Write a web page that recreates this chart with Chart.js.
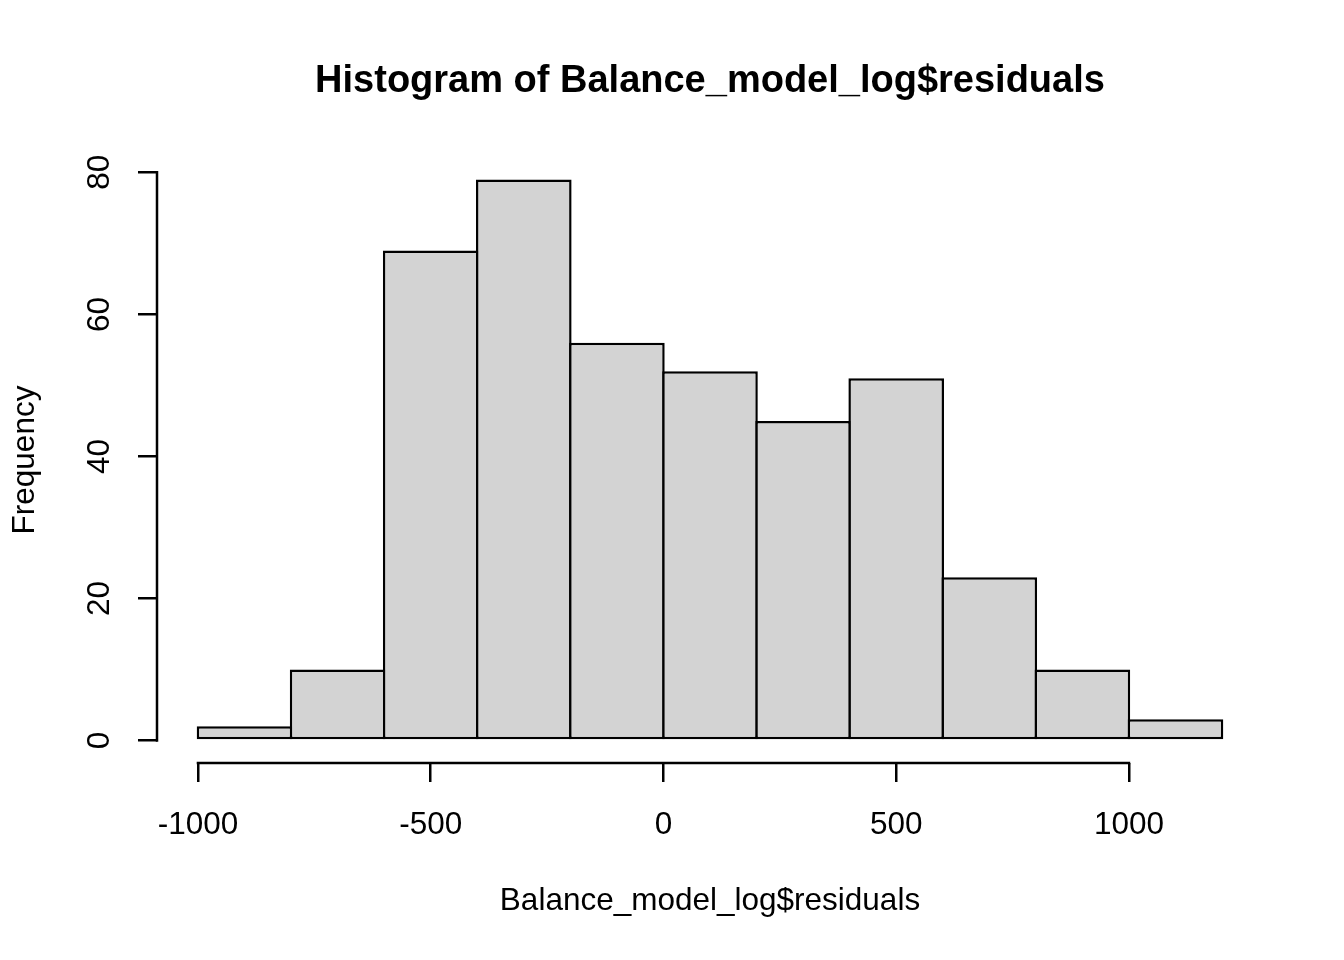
<!DOCTYPE html>
<html>
<head>
<meta charset="utf-8">
<title>Histogram of Balance_model_log$residuals</title>
<script src="https://cdn.jsdelivr.net/npm/chart.js@4.4.1/dist/chart.umd.min.js"></script>
<style>
  html, body { margin: 0; padding: 0; background: #fff; }
  #wrap { width: 1344px; height: 960px; }
</style>
</head>
<body>
<div id="wrap"><canvas id="hist" width="1344" height="960"></canvas></div>
<script>
// bins of the residuals histogram (breaks every 200)
const binEdges = [-1000, -800, -600, -400, -200, 0, 200, 400, 600, 800, 1000, 1200]
const counts = [2, 10, 69, 79, 56, 52, 45, 51, 23, 10, 3]
const xTicks = [-1000, -500, 0, 500, 1000]
const yTicks = [0, 20, 40, 60, 80]

const titleText = 'Histogram of Balance_model_log$residuals'
const xLabel = 'Balance_model_log$residuals'
const yLabel = 'Frequency'

const family = "'Liberation Sans', Arial, Helvetica, sans-serif"
Chart.defaults.font.family = family
Chart.defaults.color = '#000'

// R pads the axis range by 4% on both sides
const xLo = binEdges[0], xHi = binEdges[binEdges.length - 1]
const yHi = Math.max(...counts)
const xPad = (xHi - xLo) * 0.04
const yPad = yHi * 0.04

const bars = counts.map((c, i) => ({ x: (binEdges[i] + binEdges[i + 1]) / 2, y: c }))

const lw = 2.5

// axis lines only span the first to last tick, like base R graphics
const rAxes = {
  id: 'rAxes',
  afterDraw(chart) {
    const { ctx, chartArea, scales: { x, y } } = chart
    ctx.save()
    ctx.strokeStyle = '#000'
    ctx.lineWidth = lw
    ctx.lineCap = 'square'
    ctx.beginPath()
    ctx.moveTo(x.getPixelForValue(xTicks[0]), chartArea.bottom)
    ctx.lineTo(x.getPixelForValue(xTicks[xTicks.length - 1]), chartArea.bottom)
    ctx.moveTo(chartArea.left, y.getPixelForValue(yTicks[0]))
    ctx.lineTo(chartArea.left, y.getPixelForValue(yTicks[yTicks.length - 1]))
    ctx.stroke()
    ctx.restore()
  }
}

const tickFont = { size: 31.5 }
const plain = v => String(v)

new Chart(document.getElementById('hist'), {
  type: 'bar',
  data: {
    datasets: [{
      data: bars,
      backgroundColor: '#d3d3d3',
      borderColor: '#000',
      borderWidth: lw,
      borderSkipped: false,
      // widen a hair so neighbouring outlines sit on top of each other
      barPercentage: 1.027,
      categoryPercentage: 1
    }]
  },
  options: {
    responsive: false,
    animation: false,
    layout: { padding: { right: 81 } },
    plugins: {
      legend: { display: false },
      tooltip: { enabled: false },
      title: {
        display: true,
        text: titleText,
        fullSize: false,
        color: '#000',
        font: { size: 38, weight: 'bold', lineHeight: 1.2 },
        padding: { top: 59, bottom: 52.4 }
      }
    },
    scales: {
      x: {
        type: 'linear',
        min: xLo - xPad,
        max: xHi + xPad,
        bounds: 'data',
        offset: false,
        afterFit: s => { s.height = 197 },
        afterBuildTicks: s => { s.ticks = xTicks.map(v => ({ value: v })) },
        border: { display: false },
        grid: { offset: false, drawOnChartArea: false, drawTicks: true, tickLength: 19, color: '#000', lineWidth: lw },
        ticks: { font: tickFont, padding: 24, maxRotation: 0, autoSkip: false, callback: plain },
        title: { display: true, text: xLabel, font: tickFont, padding: { top: 0, bottom: 40 } }
      },
      y: {
        type: 'linear',
        min: -yPad,
        max: yHi + yPad,
        bounds: 'data',
        afterFit: s => { s.width = 157 },
        afterBuildTicks: s => { s.ticks = yTicks.map(v => ({ value: v })) },
        border: { display: false },
        grid: { drawOnChartArea: false, drawTicks: true, tickLength: 19, color: '#000', lineWidth: lw },
        ticks: { font: tickFont, padding: 20.5, minRotation: 90, maxRotation: 90, crossAlign: 'center', autoSkip: false, callback: plain },
        title: { display: true, text: yLabel, font: tickFont, padding: { top: 6, bottom: 0 } }
      }
    }
  },
  plugins: [rAxes]
})
</script>
</body>
</html>
